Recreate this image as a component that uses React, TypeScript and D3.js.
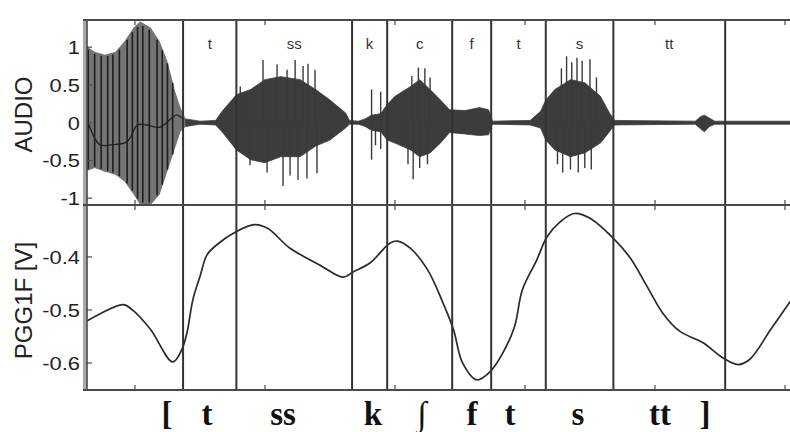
import React from "react";
import * as d3 from "d3";

// ---------- data ----------
// time axis in ms
const xTicks = [50, 150, 250, 350, 450, 550];
const audioTicks = [-1, -0.5, 0, 0.5, 1];
const audioTickLabels = ["-1", "-0.5", "0", "0.5", "1"];
const pggTicks = [-0.6, -0.5, -0.4];
const pggTickLabels = ["-0.6", "-0.5", "-0.4"];

const boundaries = [87, 128, 217, 244, 294, 324, 366, 418, 504];
const segmentLabels = ["t", "ss", "k", "c", "f", "t", "s", "tt"];

const transcription = ["[", "t", "ss", "k", "\u222B", "f", "t", "s", "tt", "]"];
const transcriptionT = [74.6, 105.4, 163.9, 233.1, 270.8, 309.2, 338.5, 390.8, 453.9, 488.5];

// audio envelope (upper / lower)
const envT = [13, 19, 27, 35, 42, 49, 54, 62, 69, 75, 81, 85, 89, 100, 112, 117, 128, 139, 150, 162, 177, 189, 200, 212, 215, 222, 227, 232, 239, 244, 250, 262, 269, 277, 285, 292, 304, 315, 322, 325, 354, 362, 366, 373, 385, 396, 408, 415, 419, 481, 485, 488, 492, 496, 556];
const envUp = [1.01, 0.94, 0.9, 0.94, 1.08, 1.26, 1.34, 1.26, 1.08, 0.81, 0.41, 0.2, 0.05, 0.02, 0.03, 0.15, 0.37, 0.44, 0.57, 0.61, 0.57, 0.44, 0.3, 0.13, 0.03, 0.02, 0.05, 0.1, 0.12, 0.24, 0.35, 0.48, 0.57, 0.44, 0.3, 0.17, 0.16, 0.2, 0.17, 0.02, 0.03, 0.15, 0.3, 0.44, 0.57, 0.53, 0.35, 0.13, 0.03, 0.02, 0.08, 0.1, 0.06, 0.02, 0.02];
const envLo = [-0.64, -0.6, -0.65, -0.69, -0.78, -0.95, -1.09, -1.09, -0.95, -0.64, -0.33, -0.12, -0.05, -0.02, -0.03, -0.12, -0.36, -0.49, -0.53, -0.45, -0.45, -0.31, -0.23, -0.07, -0.02, -0.02, -0.05, -0.1, -0.12, -0.23, -0.27, -0.36, -0.45, -0.4, -0.27, -0.13, -0.15, -0.17, -0.16, -0.02, -0.03, -0.07, -0.23, -0.36, -0.45, -0.4, -0.27, -0.12, -0.03, -0.02, -0.08, -0.12, -0.05, -0.02, -0.02];
const vowelEnd = 89;

// glottal pulses in the vowel
const pulseT = [14, 19, 24, 29, 33, 38, 44, 48, 52, 56, 61, 67, 71, 75, 79];
const vowelMidT = [14, 23, 33, 44, 52, 59, 69, 82, 87];
const vowelMidV = [0.0, -0.29, -0.29, -0.25, -0.03, -0.03, -0.06, 0.1, 0.05];

// spikes in the noisy segments
const spikeT = [131, 148.5, 159.3, 167, 173.2, 179.3, 183.1, 188.5, 138.5, 151.6, 163.9, 169.3, 175.4, 182.3, 190, 232, 239, 232, 235, 239, 263, 268, 273, 277, 260, 264, 269, 275, 378, 382, 386, 390, 394, 400, 405, 375, 379, 385, 391, 396, 401];
const spikeV = [0.48, 0.83, 0.77, 0.7, 0.83, 0.75, 0.78, 0.7, -0.56, -0.66, -0.84, -0.7, -0.76, -0.74, -0.67, 0.44, 0.41, -0.49, -0.3, -0.35, 0.62, 0.73, 0.72, 0.6, -0.55, -0.75, -0.6, -0.55, 0.72, 0.88, 0.8, 0.86, 0.82, 0.84, 0.6, -0.55, -0.66, -0.62, -0.66, -0.6, -0.62];

// PGG signal
const pggT = [13, 41, 48, 62, 79, 86, 90, 94.6, 100, 105.4, 113, 128, 142, 152, 169, 192, 210, 218, 231, 246, 252, 262, 275, 287, 295, 302, 313, 323, 333, 342, 348, 359, 367, 377, 388, 400, 418, 431, 444, 456, 469, 487, 502, 514, 523, 539, 554];
const pggV = [-0.521, -0.49, -0.5, -0.537, -0.598, -0.575, -0.543, -0.48, -0.437, -0.396, -0.377, -0.352, -0.339, -0.346, -0.383, -0.415, -0.438, -0.428, -0.411, -0.374, -0.37, -0.384, -0.424, -0.487, -0.537, -0.6, -0.632, -0.617, -0.581, -0.531, -0.462, -0.406, -0.362, -0.334, -0.318, -0.327, -0.365, -0.402, -0.456, -0.506, -0.54, -0.562, -0.59, -0.603, -0.593, -0.537, -0.484];

// ---------- layout ----------
const W = 790;
const H = 432;
const L = 87;
const R = 793;
const T = 20;
const M = 205;
const B = 390;

export default function App() {
  const x = d3.scaleLinear().domain([13.1, 555.4]).range([87, 792]);
  const yA = d3.scaleLinear().domain([-1.09, 1.36]).range([M, T]);
  const yP = d3.scaleLinear().domain([-0.651, -0.302]).range([B, M]);

  const env = envT.map((t, i) => ({ t, u: envUp[i], l: envLo[i] }));
  const area = d3
    .area<{ t: number; u: number; l: number }>()
    .x((d) => x(d.t))
    .y0((d) => yA(d.l))
    .y1((d) => yA(d.u));
  const vowelEnv = env.filter((d) => d.t <= vowelEnd);
  const restEnv = env.filter((d) => d.t >= vowelEnd);

  const upAt = d3.scaleLinear().domain(envT).range(envUp);
  const loAt = d3.scaleLinear().domain(envT).range(envLo);

  const midLine = d3
    .line<number>()
    .x((_, i) => x(vowelMidT[i]))
    .y((v) => yA(v))
    .curve(d3.curveCatmullRom);

  const pggLine = d3
    .line<number>()
    .x((_, i) => x(pggT[i]))
    .y((v) => yP(v))
    .curve(d3.curveCatmullRom.alpha(0.5));

  const frame = "#4a4a4a";
  const sans = "Liberation Sans, Arial, sans-serif";

  return (
    <svg
      width={W}
      height={H}
      style={{ position: "fixed", left: 0, top: 0, background: "#fff" }}
    >
      <defs>
        <clipPath id="clipA">
          <rect x={L} y={T} width={R - L} height={M - T} />
        </clipPath>
      </defs>

      {/* audio waveform */}
      <g clipPath="url(#clipA)">
        <path d={area(vowelEnv) || ""} fill="#747474" />
        {pulseT.map((t, i) => (
          <line
            key={"p" + i}
            x1={x(t)}
            x2={x(t)}
            y1={yA(upAt(t) * 0.97)}
            y2={yA(loAt(t) * 0.97)}
            stroke="#1e1e1e"
            strokeWidth={1.6}
          />
        ))}
        <path d={midLine(vowelMidV) || ""} fill="none" stroke="#222" strokeWidth={1.4} />
        <path d={area(restEnv) || ""} fill="#3c3c3c" stroke="#3c3c3c" strokeWidth={0.8} />
        {spikeT.map((t, i) => (
          <line
            key={"s" + i}
            x1={x(t)}
            x2={x(t)}
            y1={yA(0)}
            y2={yA(spikeV[i])}
            stroke="#3a3a3a"
            strokeWidth={1.4}
          />
        ))}
      </g>

      {/* PGG line */}
      <path d={pggLine(pggV) || ""} fill="none" stroke="#2a2a2a" strokeWidth={1.7} />

      {/* boundary lines */}
      {boundaries.map((t, i) => (
        <line key={"b" + i} x1={x(t)} x2={x(t)} y1={T} y2={B} stroke="#333" strokeWidth={2} />
      ))}

      {/* frame */}
      <rect x={L - 4} y={T} width={4} height={B - T} fill="#a8a8a8" />
      <line x1={L} x2={L} y1={T} y2={B} stroke={frame} strokeWidth={1.6} />
      <line x1={L - 4} x2={R} y1={T} y2={T} stroke={frame} strokeWidth={2} />
      <line x1={L - 4} x2={R} y1={M} y2={M} stroke={frame} strokeWidth={2} />
      <line x1={L - 4} x2={R} y1={B} y2={B} stroke={frame} strokeWidth={2.2} />

      {/* x ticks */}
      {xTicks.map((t, i) => (
        <g key={"xt" + i} stroke={frame} strokeWidth={1.2}>
          <line x1={x(t)} x2={x(t)} y1={T} y2={T + 5} />
          <line x1={x(t)} x2={x(t)} y1={M - 5} y2={M + 5} />
          <line x1={x(t)} x2={x(t)} y1={B - 5} y2={B} />
        </g>
      ))}

      {/* y ticks + labels */}
      {audioTicks.map((v, i) => (
        <g key={"ya" + i}>
          <line x1={L} x2={L + 5} y1={yA(v)} y2={yA(v)} stroke={frame} strokeWidth={1.2} />
          <text
            transform={`translate(80,${yA(v) + 7}) scale(1.15,1)`}
            textAnchor="end"
            fontFamily={sans}
            fontSize={19}
            fill="#222"
          >
            {audioTickLabels[i]}
          </text>
        </g>
      ))}
      {pggTicks.map((v, i) => (
        <g key={"yp" + i}>
          <line x1={L} x2={L + 5} y1={yP(v)} y2={yP(v)} stroke={frame} strokeWidth={1.2} />
          <text
            transform={`translate(80,${yP(v) + 7}) scale(1.15,1)`}
            textAnchor="end"
            fontFamily={sans}
            fontSize={19}
            fill="#222"
          >
            {pggTickLabels[i]}
          </text>
        </g>
      ))}

      {/* axis titles */}
      <text
        transform={`translate(32,${(T + M) / 2 + 2}) rotate(-90)`}
        textAnchor="middle"
        fontFamily={sans}
        fontSize={24}
        fill="#222"
      >
        AUDIO
      </text>
      <text
        transform={`translate(32,${(M + B) / 2 + 3}) rotate(-90)`}
        textAnchor="middle"
        fontFamily={sans}
        fontSize={24}
        fill="#222"
      >
        PGG1F [V]
      </text>

      {/* segment labels */}
      {segmentLabels.map((s, i) => (
        <text
          key={"sl" + i}
          x={x((boundaries[i] + boundaries[i + 1]) / 2)}
          y={49}
          textAnchor="middle"
          fontFamily={sans}
          fontSize={15}
          fill="#333"
        >
          {s}
        </text>
      ))}

      {/* phonetic transcription */}
      {transcription.map((s, i) => (
        <text
          key={"tr" + i}
          x={x(transcriptionT[i])}
          y={425}
          textAnchor="middle"
          fontFamily="Liberation Serif, Times New Roman, serif"
          fontWeight={s === "\u222B" ? "normal" : "bold"}
          fontSize={s === "\u222B" ? 34 : 33}
          fill="#111"
        >
          {s}
        </text>
      ))}
    </svg>
  );
}
